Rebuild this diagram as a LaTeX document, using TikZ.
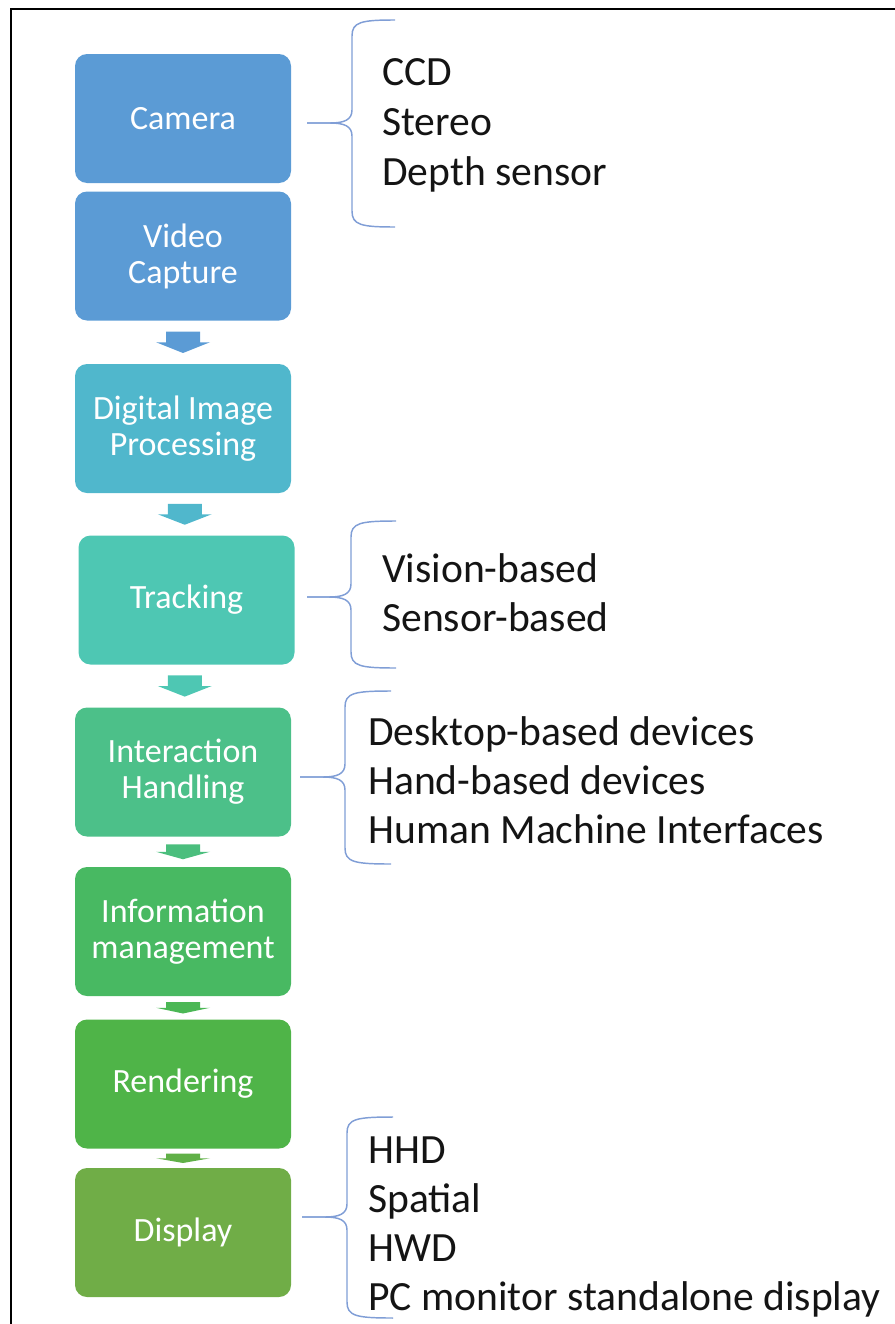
\documentclass[tikz,border=0pt]{standalone}
\usepackage{fontspec}
\setmainfont{Carlito}
\usetikzlibrary{calc}

\definecolor{stageA}{RGB}{91,155,213}
\definecolor{stageB}{RGB}{80,183,204}
\definecolor{stageC}{RGB}{78,199,179}
\definecolor{stageD}{RGB}{76,192,137}
\definecolor{stageE}{RGB}{72,185,98}
\definecolor{stageF}{RGB}{79,180,72}
\definecolor{stageG}{RGB}{112,173,71}
\definecolor{braceblue}{RGB}{128,158,214}
\definecolor{itemtext}{RGB}{20,20,20}

% block arrow centred in the gap between two stacked boxes
\newcommand{\flowarrow}[3]{%
  \fill[#3] let \p1=(#1.south), \p2=(#2.north),
    \n1={\y1-0.25*(\y1-\y2)}, \n2={\y1-0.5*(\y1-\y2)},
    \n3={\y1-0.75*(\y1-\y2)}, \n4={(\x1+\x2)/2} in
    (\n4-12.75pt,\n1) -- (\n4+12.75pt,\n1) -- (\n4+12.75pt,\n2) --
    (\n4+20.25pt,\n2) -- (\n4,\n3) -- (\n4-20.25pt,\n2) --
    (\n4-12.75pt,\n2) -- cycle;}

% left curly bracket: tip x, spine x, end x, top y, middle y, bottom y
\newcommand{\listbrace}[6]{%
  \draw[bracket] (#3,#4) .. controls (#2+9,#4) and (#2,#4+2) .. (#2,#4+16)
    -- (#2,#5-13) .. controls (#2,#5-3) and (#2-8,#5) .. (#2-22,#5) -- (#1,#5);
  \draw[bracket] (#1,#5) -- (#2-22,#5) .. controls (#2-8,#5) and (#2,#5+3) .. (#2,#5+13)
    -- (#2,#6-16) .. controls (#2,#6-2) and (#2+9,#6) .. (#3,#6);}

\begin{document}
\begin{tikzpicture}[x=0.75pt,y=-0.75pt,
  stage/.style={rounded corners=9pt, minimum width=162pt, minimum height=96.75pt,
    inner sep=0pt, align=center, text=white,
    font=\fontsize{25.5}{27}\selectfont},
  item/.style={anchor=base west, inner sep=0pt, text=itemtext,
    font=\fontsize{31.2}{36}\selectfont},
  bracket/.style={draw=braceblue, line width=1.1pt},
  frame/.style={line width=1.6pt, line cap=rect}]

\useasboundingbox (0,0) rectangle (895,1324);
\draw[frame] (11,1330) -- (11,9) -- (900,9);

% pipeline stages
\node[stage, fill=stageA] (cam) at (183,118.5) {Camera};
\node[stage, fill=stageA] (vid) at (183,256) {Video\\Capture};
\node[stage, fill=stageB] (dip) at (183,428.5) {Digital Image\\Processing};
\node[stage, fill=stageC] (trk) at (186.5,600) {Tracking};
\node[stage, fill=stageD] (inter) at (183,772) {Interaction\\Handling};
\node[stage, fill=stageE] (info) at (183,931.5) {Information\\management};
\node[stage, fill=stageF] (rend) at (183,1084) {Rendering};
\node[stage, fill=stageG] (disp) at (183,1232.5) {Display};

% arrows between stages
\flowarrow{vid}{dip}{stageA}
\flowarrow{dip}{trk}{stageB}
\flowarrow{trk}{inter}{stageC}
\flowarrow{inter}{info}{stageD!70!stageE}
\flowarrow{info}{rend}{stageE!50!stageF}
\flowarrow{rend}{disp}{stageF!50!stageG}

% option lists
\listbrace{307}{352}{395}{20}{123}{227}
\node[item] (ccd) at (382,85) {CCD};
\node[item] (stereo) at (382,135) {Stereo};
\node[item] (depth) at (382,185) {Depth sensor};

\listbrace{307}{351}{396}{521}{597}{668}
\node[item] (vision) at (382,582) {Vision-based};
\node[item] (sensor) at (382,631) {Sensor-based};

\listbrace{300}{345}{391}{691}{777}{864}
\node[item] (desk) at (368,745) {Desktop-based devices};
\node[item] (hand) at (368,794) {Hand-based devices};
\node[item] (hmi) at (368,843) {Human Machine Interfaces};

\listbrace{302}{347}{393}{1117}{1217}{1318}
\node[item] (hhd) at (368,1163) {HHD};
\node[item] (spatial) at (368,1212) {Spatial};
\node[item] (hwd) at (368,1261) {HWD};
\node[item] (pcmon) at (368,1310) {PC monitor standalone display};
\end{tikzpicture}
\end{document}
